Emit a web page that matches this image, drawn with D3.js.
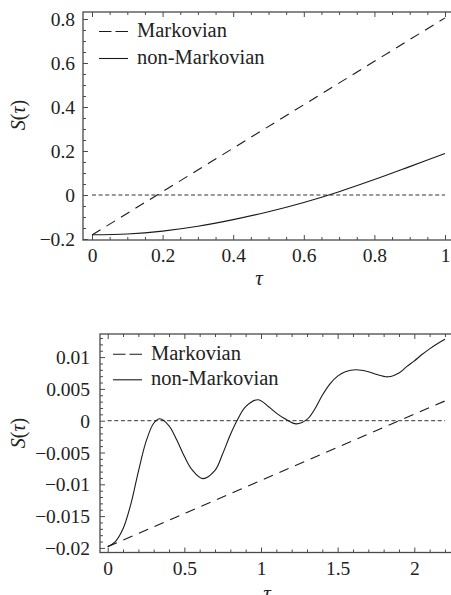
<!DOCTYPE html>
<html><head><meta charset="utf-8">
<script src="https://cdn.jsdelivr.net/npm/d3@7"></script>
<style>
html,body{margin:0;padding:0;background:#fff;}
svg{display:block;}
</style></head><body>
<svg id="c" width="451" height="595"></svg>
<script>
// ---- Top panel data ----
const tauA = [0, 1];
const markovA = [-0.182, 0.805];
const tauB = [0, 0.1, 0.2, 0.3, 0.4, 0.5, 0.6, 0.7, 0.8, 0.9, 1.0];
const nonMarkovA = [-0.181, -0.177, -0.164, -0.142, -0.112, -0.076, -0.034, 0.015, 0.070, 0.129, 0.189];
const xTicksA = [0, 0.2, 0.4, 0.6, 0.8, 1];
const xTickLabelsA = ["0", "0.2", "0.4", "0.6", "0.8", "1"];
const yTicksA = [-0.2, 0, 0.2, 0.4, 0.6, 0.8];
const yTickLabelsA = ["\u22120.2", "0", "0.2", "0.4", "0.6", "0.8"];

// ---- Bottom panel data ----
const tauC = [0, 2.2];
const markovC = [-0.0198, 0.0031];
const tauD = [0, 0.05, 0.1, 0.15, 0.2, 0.25, 0.3, 0.34, 0.4, 0.45, 0.5, 0.55, 0.62, 0.7, 0.75, 0.8, 0.85, 0.9, 0.98, 1.05, 1.1, 1.15, 1.23, 1.3, 1.35, 1.4, 1.45, 1.5, 1.55, 1.62, 1.7, 1.75, 1.83, 1.9, 1.95, 2.0, 2.05, 2.1, 2.15, 2.2];
const nonMarkovC = [-0.0198, -0.0190, -0.0170, -0.0132, -0.0080, -0.0033, -0.0004, 0.0003, -0.0008, -0.0030, -0.0056, -0.0077, -0.0091, -0.0078, -0.0052, -0.0022, 0.0003, 0.0022, 0.0033, 0.0022, 0.0012, 0.0004, -0.0005, 0.0002, 0.0018, 0.0040, 0.0058, 0.0070, 0.0077, 0.0080, 0.0077, 0.0073, 0.0069, 0.0075, 0.0085, 0.0094, 0.0104, 0.0113, 0.0121, 0.0128];
const xTicksC = [0, 0.5, 1, 1.5, 2];
const xTickLabelsC = ["0", "0.5", "1", "1.5", "2"];
const yTicksC = [-0.02, -0.015, -0.01, -0.005, 0, 0.005, 0.01];
const yTickLabelsC = ["\u22120.02", "\u22120.015", "\u22120.01", "\u22120.005", "0", "0.005", "0.01"];

const legendNames = ["Markovian", "non-Markovian"];

const FONT = '"Liberation Serif"';
const svg = d3.select("#c");
const frameColor = "#4a4a4a";
const lineColor = "#1a1a1a";
const textColor = "#222";

function range(a, b, step) {
  const out = []; const n = Math.round((b - a) / step);
  for (let i = 0; i <= n; i++) out.push(+(a + i * step).toFixed(6));
  return out;
}

function panel(cfg) {
  const g = svg.append("g");
  const x = d3.scaleLinear().domain(cfg.xDom).range([cfg.left, cfg.right]);
  const y = d3.scaleLinear().domain(cfg.yDom).range([cfg.bottom, cfg.top]);

  g.append("rect").attr("x", cfg.left).attr("y", cfg.top)
    .attr("width", cfg.right - cfg.left).attr("height", cfg.bottom - cfg.top)
    .attr("fill", "none").attr("stroke", frameColor).attr("stroke-width", 1.3);

  const minorX = cfg.xMinor.filter(v => !cfg.xTicks.some(t => Math.abs(t - v) < 1e-9));
  const minorY = cfg.yMinor.filter(v => !cfg.yTicks.some(t => Math.abs(t - v) < 1e-9));

  function styleAxis(sel) {
    sel.select(".domain").remove();
    sel.selectAll("line").attr("stroke", frameColor).attr("stroke-width", 1);
  }
  const bx = g.append("g").attr("transform", `translate(0,${cfg.bottom})`)
    .call(d3.axisBottom(x).tickValues(cfg.xTicks).tickSizeInner(-5).tickSizeOuter(0)
      .tickPadding(0).tickFormat((d, i) => cfg.xLabels[i]));
  styleAxis(bx);
  bx.selectAll("text").attr("y", cfg.xLabelY - cfg.bottom).attr("dy", null)
    .attr("font-size", 19.5).attr("fill", textColor).style("font-family", FONT);
  g.append("g").attr("transform", `translate(0,${cfg.bottom})`)
    .call(d3.axisBottom(x).tickValues(minorX).tickSizeInner(-3).tickSizeOuter(0).tickFormat(""))
    .call(styleAxis);
  g.append("g").attr("transform", `translate(0,${cfg.top})`)
    .call(d3.axisTop(x).tickValues(cfg.xTicks).tickSizeInner(-5).tickSizeOuter(0).tickFormat(""))
    .call(styleAxis);
  g.append("g").attr("transform", `translate(0,${cfg.top})`)
    .call(d3.axisTop(x).tickValues(minorX).tickSizeInner(-3).tickSizeOuter(0).tickFormat(""))
    .call(styleAxis);
  const ly = g.append("g").attr("transform", `translate(${cfg.left},0)`)
    .call(d3.axisLeft(y).tickValues(cfg.yTicks).tickSizeInner(-5).tickSizeOuter(0)
      .tickPadding(cfg.left - cfg.yLabelX).tickFormat((d, i) => cfg.yLabels[i]));
  styleAxis(ly);
  ly.selectAll("text").attr("font-size", 19.5).attr("fill", textColor).attr("dy", "0.34em")
    .attr("x", -(cfg.left - cfg.yLabelX)).style("font-family", FONT);
  g.append("g").attr("transform", `translate(${cfg.left},0)`)
    .call(d3.axisLeft(y).tickValues(minorY).tickSizeInner(-3).tickSizeOuter(0).tickFormat(""))
    .call(styleAxis);

  g.append("line").attr("x1", x(cfg.zeroFrom)).attr("x2", x(cfg.zeroTo))
    .attr("y1", y(0)).attr("y2", y(0))
    .attr("stroke", "#333").attr("stroke-width", 1).attr("stroke-dasharray", "4,2.6");

  const line = d3.line().x(d => x(d[0])).y(d => y(d[1])).curve(d3.curveCatmullRom.alpha(0.5));
  g.append("path").datum(cfg.mTau.map((t, i) => [t, cfg.mVal[i]]))
    .attr("d", line).attr("fill", "none").attr("stroke", lineColor)
    .attr("stroke-width", 1.1).attr("stroke-dasharray", "10,7");
  g.append("path").datum(cfg.nTau.map((t, i) => [t, cfg.nVal[i]]))
    .attr("d", line).attr("fill", "none").attr("stroke", lineColor)
    .attr("stroke-width", 1.1);

  const lg = g.append("g");
  legendNames.forEach((name, i) => {
    const yy = cfg.legY + i * cfg.legDY;
    lg.append("line").attr("x1", cfg.legX).attr("x2", cfg.legX + 29)
      .attr("y1", yy).attr("y2", yy).attr("stroke", lineColor).attr("stroke-width", 1.1)
      .attr("stroke-dasharray", i === 0 ? "12.5,4" : null);
    lg.append("text").attr("x", cfg.legX + 38).attr("y", yy + 5.5)
      .attr("font-size", 20.5).attr("fill", textColor).style("font-family", FONT).text(name);
  });

  g.append("text").attr("x", cfg.xTitleX).attr("y", cfg.xTitleY)
    .attr("text-anchor", "middle").attr("font-size", 21).attr("font-style", "italic")
    .attr("fill", textColor).style("font-family", FONT).text("\u03c4");
  const yt = g.append("text")
    .attr("transform", `translate(${cfg.yTitleX},${cfg.yTitleY}) rotate(-90)`)
    .attr("text-anchor", "middle").attr("font-size", 20).attr("fill", textColor)
    .style("font-family", FONT);
  yt.append("tspan").attr("font-style", "italic").text("S");
  yt.append("tspan").text("(");
  yt.append("tspan").attr("font-style", "italic").text("\u03c4");
  yt.append("tspan").text(")");
}

panel({
  left: 83, right: 453, top: 12, bottom: 240,
  xDom: [(83 - 92) / 353, (453 - 92) / 353], yDom: [(195 - 240) / 220, (195 - 12) / 220],
  xTicks: xTicksA, xLabels: xTickLabelsA, xMinor: range(0, 1.05, 0.05),
  yTicks: yTicksA, yLabels: yTickLabelsA, yMinor: range(-0.2, 0.8, 0.05),
  xLabelY: 262, yLabelX: 75,
  zeroFrom: 0, zeroTo: 1,
  mTau: tauA, mVal: markovA, nTau: tauB, nVal: nonMarkovA,
  legX: 99, legY: 31.5, legDY: 27,
  xTitleX: 259, xTitleY: 285, yTitleX: 25, yTitleY: 115
});

panel({
  left: 100, right: 453, top: 334, bottom: 552.5,
  xDom: [(100 - 107.7) / 153.3, (453 - 107.7) / 153.3], yDom: [(420.7 - 552.5) / 6360, (420.7 - 334) / 6360],
  xTicks: xTicksC, xLabels: xTickLabelsC, xMinor: range(0, 2.2, 0.1),
  yTicks: yTicksC, yLabels: yTickLabelsC, yMinor: range(-0.02, 0.013, 0.001),
  xLabelY: 575, yLabelX: 90,
  zeroFrom: 0, zeroTo: 2.2,
  mTau: tauC, mVal: markovC, nTau: tauD, nVal: nonMarkovC,
  legX: 113, legY: 354.3, legDY: 25.5,
  xTitleX: 267, xTitleY: 600, yTitleX: 25, yTitleY: 433
});
</script>
</body></html>
